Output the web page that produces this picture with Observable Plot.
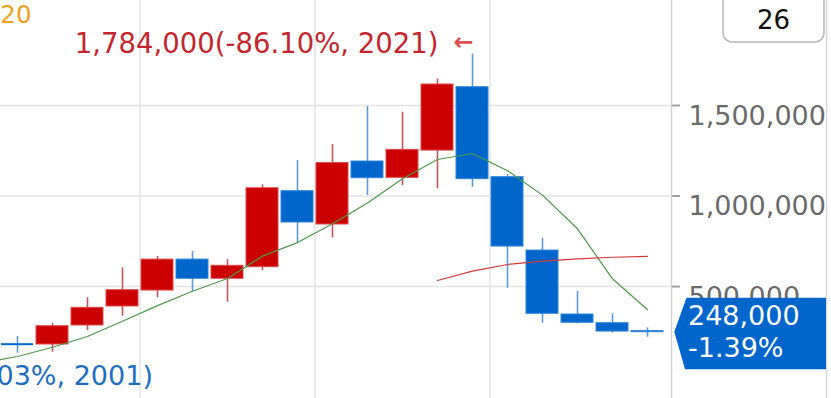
<!DOCTYPE html>
<html><head><meta charset="utf-8">
<script src="https://cdn.jsdelivr.net/npm/d3@7"></script>
<script src="https://cdn.jsdelivr.net/npm/@observablehq/plot@0.6"></script>
<style>html,body{margin:0;padding:0;background:#fff;overflow:hidden}</style>
</head><body><div id="chart"></div>
<script>
// ---- data ----
const years  = [2008,2009,2010,2011,2012,2013,2014,2015,2016,2017,2018,2019,2020,2021,2022,2023,2024,2025,2026];
const opens  = [181700,180000,285000,390000,478000,649000,543000,607000,1026700,842800,1190700,1100600,1251000,1601000,1104000,699000,345700,297700,254000];
const highs  = [224000,297700,438000,603600,666000,693600,649000,1062000,1196000,1284600,1494000,1463000,1647000,1784000,1119000,767000,472700,349600,272000];
const lows   = [132000,137500,257000,336000,438000,472700,413600,588700,743000,769000,1003000,1058000,1040000,1048700,491000,297700,294000,243000,220000];
const closes = [181700,281000,382700,480000,649000,543000,614700,1043000,853800,1182000,1098500,1255000,1616000,1093000,721000,349600,300000,251500,248000];

const ma5Years  = [2007,2008,2009,2010,2011,2012,2013,2014,2015,2016,2017,2018,2019,2020,2021,2022,2023,2024,2025,2026];
const ma5Values = [80000,113800,165000,224000,308700,395000,474000,544500,668000,743000,846600,962000,1095000,1201700,1235000,1140000,1005000,819000,543000,371700];
const ma20Years  = [2020,2021,2022,2023,2024,2025,2026];
const ma20Values = [533500,585000,622000,641000,653000,662000,667000];

const yTicks = [500000, 1000000, 1500000];
const lowLabel = "03%, 2001)";
const legendLabel = "20";
const periodLabel = "26";

// ---- derived tables ----
const candles = years.map((year, i) => ({year, open: opens[i], high: highs[i], low: lows[i], close: closes[i]}));
const ma5 = ma5Years.map((year, i) => ({year, v: ma5Values[i]}));
const ma20 = ma20Years.map((year, i) => ({year, v: ma20Values[i]}));
const fmt = d3.format(",");
const RED = "#cc0000", BLUE = "#0066cc";
const up = d => d.close > d.open;
const peak = candles.reduce((a, b) => (b.high > a.high ? b : a));
const last = candles[candles.length - 1];
const prev = candles[candles.length - 2];
const peakLabel = `${fmt(peak.high)}(${((last.close / peak.high - 1) * 100).toFixed(2)}%, ${peak.year})`;
const changeLabel = `${((last.close / prev.close - 1) * 100).toFixed(2)}%`;

const FONT = "DejaVu Sans";

const plot = Plot.plot({
  width: 831, height: 398,
  marginLeft: 0, marginRight: 160, marginTop: 0, marginBottom: 0,
  style: {fontFamily: FONT, background: "#fff", overflow: "visible"},
  x: {type: "band", domain: ma5Years, range: [-34.3, 662.7], paddingInner: 0.1, paddingOuter: 0, axis: null},
  y: {domain: [0, 1500000], range: [376.6, 105]},
  marks: [
    Plot.ruleX([2012, 2017, 2022], {dx: -17.5, stroke: "#e4e4e4", strokeWidth: 1.5}),
    Plot.gridY(yTicks, {stroke: "#e4e4e4", strokeOpacity: 1, strokeWidth: 1.5}),
    Plot.ruleX(candles, {x: "year", y1: "low", y2: "high", stroke: d => up(d) ? "#c7565b" : "#5a9ade", strokeWidth: 1.6}),
    Plot.barY(candles.filter(d => d.open !== d.close), {x: "year", y1: "open", y2: "close",
      fill: d => up(d) ? RED : BLUE, stroke: d => up(d) ? "#dc4a4a" : "#2f86d8", strokeWidth: 1}),
    Plot.tickY(candles.filter(d => d.open === d.close), {x: "year", y: "close", stroke: BLUE, strokeWidth: 2}),
    Plot.line(ma5, {x: "year", y: "v", stroke: "#4e9a4a", strokeWidth: 1.2, clip: true}),
    Plot.line(ma20, {x: "year", y: "v", stroke: "#d03a3a", strokeWidth: 1.2, clip: true}),
    Plot.axisY({anchor: "right", ticks: yTicks, tickSize: 8, tickFormat: () => "", stroke: "#a0a0a0", strokeWidth: 2}),
    Plot.text(yTicks, {y: d => d, frameAnchor: "right", text: d => fmt(d), textAnchor: "start", dx: 17,
      lineAnchor: "top", fill: "#6a6a6a", fontSize: 27}),
    Plot.text([peak], {x: "year", y: "high", text: () => peakLabel, textAnchor: "end", dx: -34, dy: -10,
      fill: "#c4262e", fontSize: 27.5}),
    Plot.text([peak], {x: "year", y: "high", text: () => "←", textAnchor: "end", dx: 1, dy: -12,
      fill: "#e05050", fontSize: 24, fontWeight: "bold"}),
    Plot.text([lowLabel], {frameAnchor: "bottom-left", text: d => d, textAnchor: "start", dx: -4, dy: -14,
      fill: "#1f6fc0", fontSize: 27}),
    Plot.text([legendLabel], {frameAnchor: "top-left", text: d => d, textAnchor: "end", dx: 31, dy: 5,
      lineAnchor: "top", fill: "#f0a020", fontSize: 24.5})
  ]
});

// ---- overlays: axis line, price tag, period box ----
const svg = d3.select(plot);
const yS = plot.scale("y");
const ly = yS.apply(last.close);
svg.append("line").attr("x1", 671.5).attr("x2", 671.5).attr("y1", 0).attr("y2", 398)
  .attr("stroke", "#d2d2d2").attr("stroke-width", 1.5);
svg.append("line").attr("x1", 826.5).attr("x2", 826.5).attr("y1", 0).attr("y2", 398)
  .attr("stroke", "#d8d8d8").attr("stroke-width", 1.5);
svg.append("polygon")
  .attr("points", [[674.3, ly], [686.5, ly - 34], [826, ly - 34], [826, ly + 37.6], [685, ly + 37.6]].map(p => p.join(",")).join(" "))
  .attr("fill", BLUE);
svg.append("text").attr("x", 688).attr("y", ly - 7).attr("fill", "#fff").attr("text-anchor", "start")
  .attr("font-family", FONT).attr("font-size", 27).text(fmt(last.close));
svg.append("text").attr("x", 688).attr("y", ly + 25.5).attr("fill", "#fff").attr("text-anchor", "start")
  .attr("font-family", FONT).attr("font-size", 27).text(changeLabel);
svg.append("rect").attr("x", 723).attr("y", -12).attr("width", 101).attr("height", 54).attr("rx", 9)
  .attr("fill", "#fff").attr("stroke", "#b8b8b8").attr("stroke-width", 1.5);
svg.append("text").attr("x", 773.5).attr("y", 29).attr("text-anchor", "middle").attr("fill", "#111")
  .attr("font-family", FONT).attr("font-size", 26).text(periodLabel);

document.getElementById("chart").appendChild(plot);
</script>
</body></html>
